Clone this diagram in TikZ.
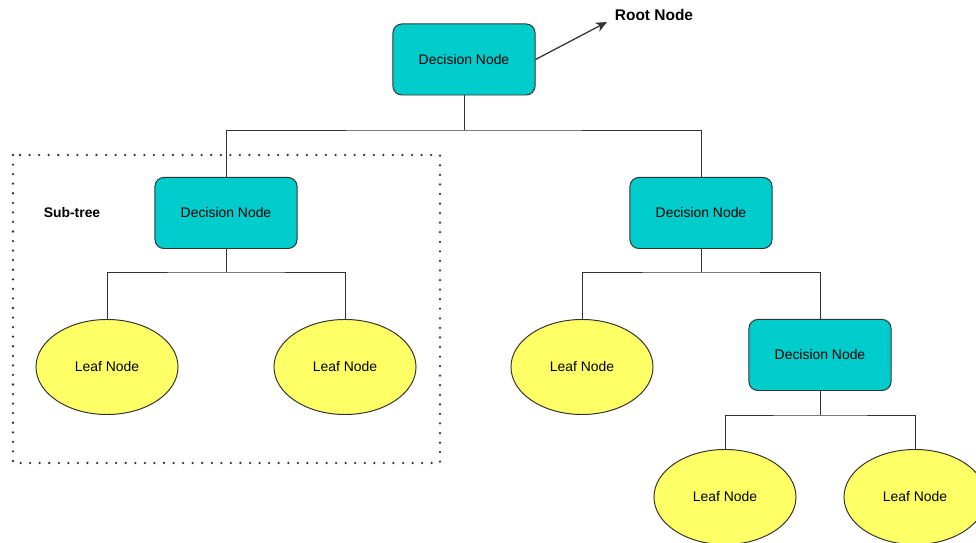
\documentclass[tikz,border=0pt]{standalone}
\usepackage{fontspec}
\setmainfont{Liberation Sans}
\usetikzlibrary{arrows.meta,shapes.geometric}
\definecolor{cyanfill}{HTML}{00CCCC}
\definecolor{lemon}{HTML}{FFFF66}
\definecolor{edge}{HTML}{333333}

\begin{document}
\begin{tikzpicture}[x=0.025cm,y=-0.025cm,
    decision/.style={draw=edge, fill=cyanfill, rounded corners=0.22cm, line width=0.7pt,
      minimum width=3.55cm, minimum height=1.775cm, inner sep=0pt,
      font=\fontsize{9.9}{11}\selectfont},
    leaf/.style={draw=edge, fill=lemon, ellipse, line width=0.7pt,
      minimum width=3.55cm, minimum height=2.375cm, inner sep=0pt,
      font=\fontsize{9.9}{11}\selectfont},
    link/.style={draw=edge, line width=0.7pt},
    tag/.style={font=\bfseries\fontsize{9.9}{11}\selectfont, inner sep=0pt}]
  \useasboundingbox (0,0) rectangle (976,543);

  % sub-tree frame
  \draw [edge, line width=1.8pt, line cap=round, dash pattern=on 0pt off 6.8pt]
    (13,155) rectangle (440,463);
  \node [tag] (sub) at (72,213) {Sub-tree};

  % decision nodes
  \node [decision] (root) at (464,59.5) {Decision Node};
  \node [decision] (dl) at (226,213) {Decision Node};
  \node [decision] (dr) at (701,213) {Decision Node};
  \node [decision] (drr) at (820,355) {Decision Node};

  % leaves
  \node [leaf] (l1) at (107,367) {Leaf Node};
  \node [leaf] (l2) at (345,367) {Leaf Node};
  \node [leaf] (l3) at (582,367) {Leaf Node};
  \node [leaf] (l4) at (725,497) {Leaf Node};
  \node [leaf] (l5) at (915,497) {Leaf Node};

  % root label
  \node [tag, font=\bfseries\fontsize{11}{13}\selectfont] (rootlbl) at (654,15) {Root Node};
  \coordinate (tip) at (607,22);
  \draw [link, line width=0.9pt, -{Stealth[length=8pt,width=7pt]}] (root.east) -- (tip);

  % branches
  \coordinate (j0) at (464,130);
  \coordinate (j1) at (226,272);
  \coordinate (j2) at (701,272);
  \coordinate (j3) at (820,415);
  \draw [link] (root.south) -- (j0);
  \draw [link] (dl.north) |- (j0) -| (dr.north);
  \draw [link] (dl.south) -- (j1);
  \draw [link] (l1.north) |- (j1) -| (l2.north);
  \draw [link] (dr.south) -- (j2);
  \draw [link] (l3.north) |- (j2) -| (drr.north);
  \draw [link] (drr.south) -- (j3);
  \draw [link] (l4.north) |- (j3) -| (l5.north);
\end{tikzpicture}
\end{document}
